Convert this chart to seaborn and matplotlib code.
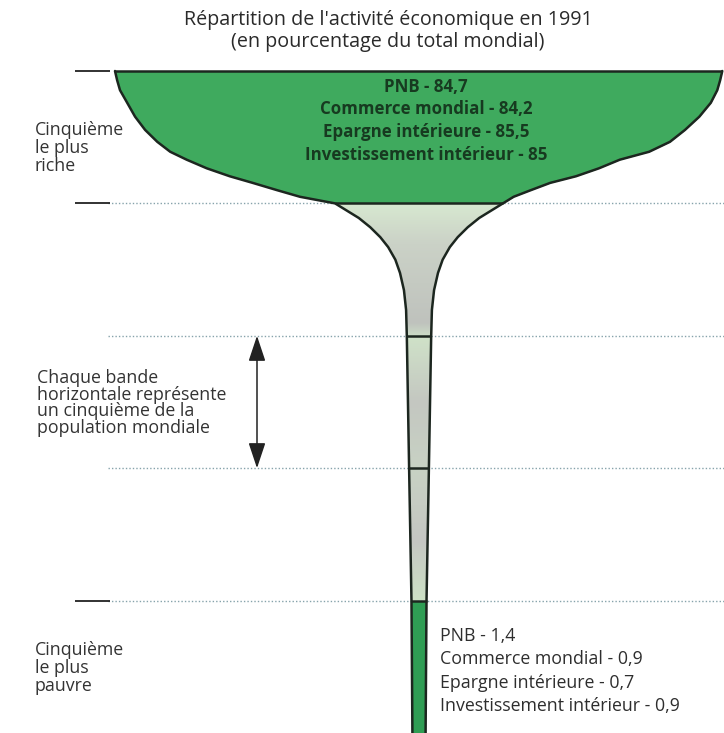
import numpy as np
import matplotlib
matplotlib.use("Agg")
import matplotlib.pyplot as plt
from matplotlib.patches import Polygon
from matplotlib.colors import LinearSegmentedColormap
import seaborn as sns

# each band is one fifth of world population, richest at the top
band_edges = [0, 20, 40, 60, 80, 100]

# outline of the glass: depth (population %) and half widths (% of world activity)
depth_rich = [0, 1.4, 2.9, 4.8, 6.9, 8.9, 10.7, 12.2, 13.4, 14.7, 15.9, 16.9, 18.0, 19.0, 20]
left_rich = [42.4, 42.1, 41.7, 40.7, 39.6, 38.2, 36.5, 34.7, 32.4, 29.6, 26.4, 23.2, 19.8, 16.6, 11.7]
right_rich = [42.3, 42.0, 41.6, 40.7, 39.1, 37.1, 35.0, 32.1, 28.0, 25.1, 21.9, 18.3, 15.6, 13.2, 11.7]
depth_stem = [20, 21.0, 22.2, 23.6, 25.1, 26.6, 28.5, 30.5, 33.1, 36.1, 40, 60, 80, 100]
half_stem = [11.7, 10.2, 8.4, 6.8, 5.4, 4.3, 3.3, 2.65, 2.1, 1.8, 1.7, 1.38, 1.05, 0.92]

indicators = ["PNB", "Commerce mondial", "Epargne intérieure", "Investissement intérieur"]
rich_values = ["84,7", "84,2", "85,5", "85"]
poor_values = ["1,4", "0,9", "0,7", "0,9"]

title = "Répartition de l'activité économique en 1991\n(en pourcentage du total mondial)"
label_rich = "Cinquième\nle plus\nriche"
label_band = "Chaque bande\nhorizontale représente\nun cinquième de la\npopulation mondiale"
label_poor = "Cinquième\nle plus\npauvre"

sns.set_theme(style="white")
plt.rcParams["font.family"] = ["Open Sans", "DejaVu Sans"]

W, H = 724, 733
CX, PXW = 419, 7.17     # glass centre (px) and px per width unit
Y0, PXY = 71, 6.62      # px of depth 0 and px per population %


def fx(px):
    return (px - CX) / PXW


def fy(py):
    return (py - Y0) / PXY


fig = plt.figure(figsize=(W / 100, H / 100), dpi=100)
ax = fig.add_axes([0, 0, 1, 1])
ax.set_axis_off()

green_top = "#3faa5e"
green_bot = "#2f9d54"
outline = "#1c261f"

d_r = np.array(depth_rich)
l_r = np.array(left_rich)
r_r = np.array(right_rich)
d_s = np.array(depth_stem)
w_s = np.array(half_stem)

# dotted guides and short ticks
ax.hlines(band_edges[1:5], fx(108), fx(W), colors="#86a3ab",
          linestyles=(0, (1, 1.5)), lw=1.0, zorder=1)
ax.hlines([band_edges[0], band_edges[1], band_edges[4]], fx(75), fx(110),
          colors="#222222", lw=1.3, zorder=2)

# rich band
ax.fill_betweenx(d_r, -l_r, r_r, color=green_top, lw=0, zorder=3)

# grey stem with soft gradient
mid = d_s <= 80
stem_poly = np.vstack([np.column_stack([-w_s[mid], d_s[mid]]),
                       np.column_stack([w_s[mid][::-1], d_s[mid][::-1]])])
patch = Polygon(stem_poly, closed=True, facecolor="none", edgecolor="none")
ax.add_patch(patch)
stops = [(0.0, "#d7e8d0"), (0.1, "#cbd2c7"), (0.3, "#bfc2bd"),
         (0.34, "#cfe1c8"), (0.5, "#c4c7c1"), (0.67, "#c8d2c4"),
         (0.85, "#c4c6c2"), (1.0, "#cde2c6")]
cmap = LinearSegmentedColormap.from_list("stem", stops)
grad = np.linspace(0, 1, 256).reshape(-1, 1)
img = ax.imshow(grad, cmap=cmap, aspect="auto", extent=[-w_s[0], w_s[0], 80, 20],
                zorder=3, interpolation="bilinear")
img.set_clip_path(patch)

# poorest band
low = d_s >= 80
ax.fill_betweenx(d_s[low], -w_s[low], w_s[low], color=green_bot, lw=0, zorder=3)

# outline of the glass
d_all = np.concatenate([d_r, d_s[1:]])
sns.lineplot(x=-np.concatenate([l_r, w_s[1:]]), y=d_all, sort=False, estimator=None,
             color=outline, lw=1.8, ax=ax, zorder=4)
sns.lineplot(x=np.concatenate([r_r, w_s[1:]]), y=d_all, sort=False, estimator=None,
             color=outline, lw=1.8, ax=ax, zorder=4)
ax.plot([-l_r[0], r_r[0]], [0, 0], color=outline, lw=1.8, zorder=4, solid_capstyle="butt")
for e in band_edges[1:5]:
    hw = w_s[list(depth_stem).index(e)]
    ax.plot([-hw, hw], [e, e], color=outline, lw=1.8, zorder=4, solid_capstyle="butt")

# double arrow: one band = one fifth
ax.annotate("", xy=(fx(257), band_edges[2]), xytext=(fx(257), band_edges[3]),
            arrowprops=dict(arrowstyle="<|-|>,head_length=1.05,head_width=0.35",
                            color="#222222", lw=1.1, mutation_scale=15,
                            shrinkA=0, shrinkB=0), zorder=5)

ax.set_xlim(fx(0), fx(W))
ax.set_ylim(fy(H), fy(0))

# texts
ax.text(fx(388), fy(31), title, ha="center", va="center", fontsize=14.2,
        color="#2a2a2a", linespacing=1.1)
ax.text(fx(35), fy(148), label_rich, ha="left", va="center", fontsize=12.8,
        color="#333333", linespacing=1.0)
ax.text(fx(37), fy(403), label_band, ha="left", va="center", fontsize=12.8,
        color="#333333", linespacing=0.92)
ax.text(fx(35), fy(668), label_poor, ha="left", va="center", fontsize=12.8,
        color="#333333", linespacing=1.0)

for i, (name, v) in enumerate(zip(indicators, rich_values)):
    ax.text(fx(426), fy(87 + 22.5 * i), f"{name} - {v}", ha="center", va="center",
            fontsize=12.2, fontweight="bold", color="#173a20", zorder=6)
for i, (name, v) in enumerate(zip(indicators, poor_values)):
    ax.text(fx(440), fy(636 + 23.3 * i), f"{name} - {v}", ha="left", va="center",
            fontsize=12.8, color="#2e2e2e", zorder=6)

fig.savefig("out.png", dpi=100)
